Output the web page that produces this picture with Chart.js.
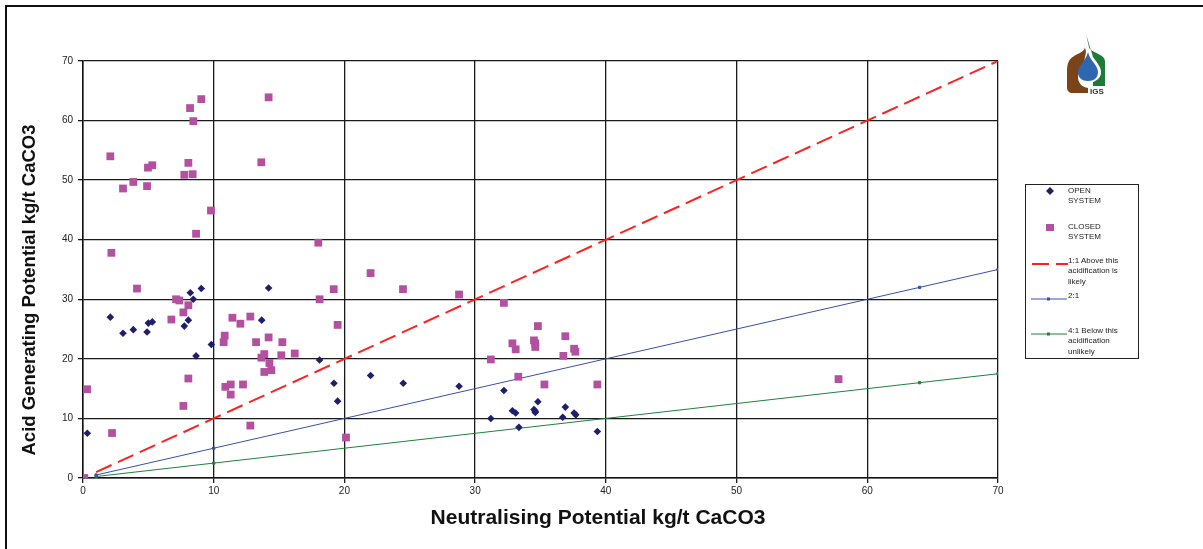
<!DOCTYPE html>
<html>
<head>
<meta charset="utf-8">
<script src="https://cdn.jsdelivr.net/npm/chart.js@4.4.0/dist/chart.umd.min.js"></script>
<style>
  body { margin: 0; background: #fff; }
  #wrap { position: relative; width: 1203px; height: 549px; overflow: hidden; }
  #frame { position: absolute; left: 5px; top: 5px; right: -10px; bottom: -10px;
           border-top: 2px solid #111; border-left: 2px solid #111; }
  #legend { position: absolute; left: 1025px; top: 184px; width: 112px; height: 173px;
            border: 1px solid #222; font-family: Arial, "Liberation Sans", sans-serif;
            font-size: 8px; line-height: 10.3px; color: #222; }
  .item { position: absolute; left: 42px; }
  .key { position: absolute; }
  #logo { position: absolute; left: 1060px; top: 30px; }
</style>
</head>
<body>
<div id="wrap">
  <canvas id="chart" width="1203" height="549"></canvas>
  <div id="frame"></div>
  <svg id="logo" width="50" height="70" viewBox="0 0 50 70">
    <path d="M22,3 L25,17 C25,23 13,24 9,31 C7,35 7,38 7,42 L7,57 C7,61 9,63 13,63 L28,63 L28,58 C22,57 18,53 18,47 C18,41 22,37 24,32 L26,22 Z" fill="#7a4418"/>
    <path d="M26,4 L29,17 C30,23 44,23 45,31 L45,56 L33,56 L33,52 C38,50 41,47 41,42 C41,36 36,32 33,27 Z" fill="#1f7a3a"/>
    <path d="M28,22 C30,31 38,35 38,42 C38,48 34,51 28,51 C22,51 18,48 18,42 C18,35 26,31 28,22 Z" fill="#2f66b0"/>
    <text x="30" y="64" font-family="Arial, sans-serif" font-weight="bold" font-size="8" fill="#333">IGS</text>
  </svg>
  <div id="legend"></div>
</div>
<script>
// Neutralising potential (x) and acid generating potential (y), kg/t CaCO3
var openX = [0.33, 2.09, 3.06, 3.85, 4.9, 5.0, 5.3, 7.75, 8.06, 8.21, 8.44, 9.05, 8.65, 9.82,
  13.67, 14.2, 18.1, 19.2, 19.48, 22.0, 24.5, 28.77, 31.2, 32.2, 32.85, 33.1, 33.35, 34.8,
  34.5, 34.6, 34.6, 36.9, 36.7, 37.57, 37.7, 39.35];
var openY = [7.5, 27.0, 24.3, 24.9, 24.5, 26.0, 26.2, 25.5, 26.5, 31.1, 30.0, 31.8, 20.5, 22.4,
  26.5, 31.9, 19.8, 15.9, 12.9, 17.2, 15.9, 15.4, 10.0, 14.7, 11.3, 10.9, 8.5, 12.8,
  11.5, 11.2, 11.0, 11.9, 10.2, 10.9, 10.6, 7.8];

var closedX = [0.1, 0.31, 2.09, 2.17, 2.22, 3.06, 3.85, 4.13, 4.9, 4.97, 5.3, 6.76, 7.12, 7.37,
  7.68, 7.68, 7.75, 8.06, 8.06, 8.06, 8.19, 8.39, 8.44, 8.65, 9.05, 9.79, 10.76, 10.84, 10.89,
  11.3, 11.3, 11.43, 12.04, 12.24, 12.8, 12.8, 13.24, 13.64, 13.65, 13.87, 13.87, 14.2, 14.2,
  14.26, 14.41, 15.17, 15.25, 16.2, 18.0, 18.1, 19.18, 19.48, 20.12, 22.0, 24.48, 28.77, 31.2,
  32.2, 32.85, 33.1, 33.3, 34.5, 34.6, 34.6, 34.8, 35.3, 36.75, 36.9, 37.57, 37.67, 39.35, 57.8];
var closedY = [0, 14.9, 54.0, 37.8, 7.55, 48.6, 49.7, 31.8, 49.0, 52.1, 52.5, 26.6, 30.0, 29.8,
  27.8, 12.1, 50.9, 52.9, 29.0, 16.7, 62.1, 51.0, 59.9, 41.0, 63.6, 44.9, 22.8, 23.9, 15.3,
  15.7, 14.0, 26.9, 25.9, 15.7, 8.8, 27.1, 22.8, 53.0, 20.2, 20.8, 17.8, 63.9, 23.6,
  19.3, 18.1, 20.6, 22.8, 20.9, 39.5, 30.0, 31.7, 25.7, 6.8, 34.4, 31.7, 30.8, 19.9,
  29.4, 22.6, 21.6, 17.0, 23.1, 22.6, 22.0, 25.5, 15.7, 20.5, 23.8, 21.7, 21.2, 15.7, 16.6];

// ratio lines
var lineX = [1, 10, 64, 70];
var ratio1 = [1, 10, 64, 70];
var ratio2 = [0.5, 5, 32, 35];
var ratio4 = [0.25, 2.5, 16, 17.5];

var tickValues = [0, 10, 20, 30, 40, 50, 60, 70];

var xTitle = "Neutralising Potential kg/t CaCO3";
var yTitle = "Acid Generating Potential kg/t CaCO3";

function pairs(xs, ys) {
    return xs.map(function(x, i) { return { x: x, y: ys[i] }; });
}

var font = "Arial, 'Liberation Sans', sans-serif";

// the axis titles sit off-centre in the original, so draw them by hand
var axisTitles = {
    id: "axisTitles",
    afterDraw: function(chart) {
        var ctx = chart.ctx;
        ctx.save();
        ctx.fillStyle = "#111";
        ctx.textAlign = "center";
        ctx.textBaseline = "middle";
        ctx.font = "bold 21px " + font;
        ctx.fillText(xTitle, 598, 518);
        ctx.translate(30, 290);
        ctx.rotate(-Math.PI / 2);
        ctx.font = "bold 18.5px " + font;
        ctx.fillText(yTitle, 0, 0);
        ctx.restore();
    }
};

new Chart(document.getElementById("chart"), {
    type: "scatter",
    data: {
        datasets: [{
            label: "OPEN SYSTEM",
            data: pairs(openX, openY),
            pointStyle: "rectRot",
            pointRadius: 3.8,
            backgroundColor: "#1e1e6a",
            borderColor: "#1e1e6a",
            borderWidth: 0,
            order: 1
        }, {
            label: "CLOSED SYSTEM",
            data: pairs(closedX, closedY),
            pointStyle: "rect",
            pointRadius: 5.5,
            backgroundColor: "#b450a0",
            borderColor: "#b450a0",
            borderWidth: 0,
            order: 2
        }, {
            label: "1:1 Above this acidification is likely",
            data: pairs(lineX, ratio1),
            showLine: true,
            borderColor: "#ff2020",
            borderWidth: 2,
            borderDash: [17, 7],
            pointRadius: 0,
            order: 3
        }, {
            label: "2:1",
            data: pairs(lineX, ratio2),
            showLine: true,
            borderColor: "#3a4fa8",
            backgroundColor: "#3a4fa8",
            borderWidth: 1,
            pointStyle: "rect",
            pointRadius: 1.6,
            order: 4
        }, {
            label: "4:1 Below this acidification unlikely",
            data: pairs(lineX, ratio4),
            showLine: true,
            borderColor: "#1f8040",
            backgroundColor: "#1f8040",
            borderWidth: 1,
            pointStyle: "rect",
            pointRadius: 1.6,
            order: 5
        }]
    },
    options: {
        responsive: false,
        animation: false,
        layout: { padding: { left: 16, right: 205, top: 61, bottom: 16 } },
        plugins: {
            legend: { display: false },
            tooltip: { enabled: false }
        },
        scales: {
            x: {
                type: "linear",
                min: 0, max: 70,
                afterBuildTicks: function(scale) {
                    scale.ticks = tickValues.map(function(v) { return { value: v }; });
                },
                afterFit: function(scale) { scale.height = 55; },
                grid: { color: "#1a1a1a", lineWidth: 1.3, tickLength: 5, tickColor: "#1a1a1a" },
                border: { color: "#111", width: 1.5 },
                ticks: { font: { family: font, size: 10 }, color: "#222", padding: 2, maxRotation: 0 }
            },
            y: {
                type: "linear",
                min: 0, max: 70,
                afterBuildTicks: function(scale) {
                    scale.ticks = tickValues.map(function(v) { return { value: v }; });
                },
                afterFit: function(scale) { scale.width = 67; },
                grid: { color: "#1a1a1a", lineWidth: 1.3, tickLength: 5, tickColor: "#1a1a1a" },
                border: { color: "#111", width: 1.5 },
                ticks: { font: { family: font, size: 10 }, color: "#222", padding: 5 }
            }
        }
    },
    plugins: [axisTitles]
});

// legend box, drawn as html
var legendItems = [
    { top: 1, lines: ["OPEN", "SYSTEM"], key: "diamond", color: "#1e1e6a" },
    { top: 37, lines: ["CLOSED", "SYSTEM"], key: "square", color: "#b450a0" },
    { top: 71, lines: ["1:1 Above this", "acidification is", "likely"], key: "dash", color: "#ff2020" },
    { top: 106, lines: ["2:1"], key: "line", color: "#3a4fa8" },
    { top: 141, lines: ["4:1 Below this", "acidification", "unlikely"], key: "line", color: "#1f8040" }
];

var legend = document.getElementById("legend");
legendItems.forEach(function(item) {
    var t = document.createElement("div");
    t.className = "item";
    t.style.top = item.top + "px";
    t.innerHTML = item.lines.join("<br>");
    legend.appendChild(t);

    var k = document.createElement("div");
    k.className = "key";
    var cy = item.top + 5;
    var svg;
    if (item.key == "diamond") {
        svg = '<svg width="10" height="8"><polygon points="5,0 9,4 5,8 1,4" fill="' + item.color + '"/></svg>';
        k.style.left = "19px"; k.style.top = (cy - 4) + "px";
    } else if (item.key == "square") {
        svg = '<svg width="10" height="8"><rect x="1" y="0" width="8" height="7" fill="' + item.color + '"/></svg>';
        k.style.left = "19px"; k.style.top = (cy - 3) + "px";
    } else if (item.key == "dash") {
        svg = '<svg width="36" height="4"><line x1="0" y1="2" x2="36" y2="2" stroke="' + item.color + '" stroke-width="2" stroke-dasharray="17,7"/></svg>';
        k.style.left = "6px"; k.style.top = (cy - 2) + "px";
    } else {
        svg = '<svg width="36" height="4"><line x1="0" y1="2" x2="36" y2="2" stroke="' + item.color + '" stroke-width="1"/><rect x="16" y="0.5" width="3" height="3" fill="' + item.color + '"/></svg>';
        k.style.left = "5px"; k.style.top = (cy - 2) + "px";
    }
    k.innerHTML = svg;
    legend.appendChild(k);
});
</script>
</body>
</html>
